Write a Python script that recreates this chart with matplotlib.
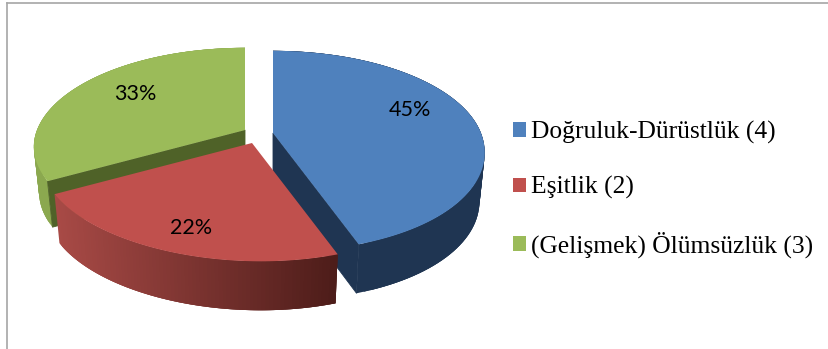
import numpy as np
import matplotlib
matplotlib.use('Agg')
import matplotlib.pyplot as plt
from matplotlib.patches import Patch, Polygon
from matplotlib.colors import to_rgb

# pasta grafik verileri
categories = ['Doğruluk-Dürüstlük (4)', 'Eşitlik (2)', '(Gelişmek) Ölümsüzlük (3)']
shares = [45, 22, 33]
pct_labels = ['45%', '22%', '33%']

top_colors = ['#4F81BD', '#C0504D', '#9BBB59']
rim_left = ['#1F3552', '#A84A46', '#8BA84F']
rim_right = ['#1F3552', '#4C1C19', '#8BA84F']
face_color = ['#1F3552', None, '#4F6228']
face_end = [-1, None, 0]  # gorunen ic yuz: dilimin hangi ucunda

# ayrilmis dilimlerin merkezleri (piksel)
apexes = [(273, 133), (252, 143), (245, 130)]
label_pos = [(410, 110), (191, 228), (135, 94)]
depths = [49, 49, 46]
R, RY, K, WARP, BOTTOM = 208, 97, 0.18, 9, 0.975


def project(theta, apex):
    # daireyi perspektifle ekrana izdusur
    u, v = np.cos(theta), np.sin(theta)
    s = 1 / (1 + K * v)
    return np.column_stack([apex[0] + R * u * s + WARP * np.minimum(v, 0) ** 2,
                            apex[1] - RY * v * s])


def lower(p, apex, d):
    # alt yuzey biraz daha dar gorunur
    return np.array([apex[0] + (p[0] - apex[0]) * BOTTOM, p[1] + d])


fig = plt.figure(figsize=(8.29, 3.49), dpi=100)
ax = fig.add_axes([7 / 829, 0, 822 / 829, 346 / 349])
ax.set_xlim(7, 829)
ax.set_ylim(349, 3)
ax.set_xticks([])
ax.set_yticks([])
for side in ['right', 'bottom']:
    ax.spines[side].set_visible(False)
for side in ['left', 'top']:
    ax.spines[side].set_color('#A6A6A6')
    ax.spines[side].set_linewidth(1.2)

# dilim acilari: saat yonunde, tepeden baslar
edges = np.pi / 2 - np.cumsum([0] + shares) / sum(shares) * 2 * np.pi

# cizim sirasi: yesil, mavi, kirmizi
for i in [2, 0, 1]:
    apex = apexes[i]
    d = depths[i]
    arc = project(np.linspace(edges[i], edges[i + 1], 90), apex)

    # dis kenar, renk gecisli; seritler soldan saga bindirilir
    c0, c1 = np.array(to_rgb(rim_left[i])), np.array(to_rgb(rim_right[i]))
    x0, x1 = arc[:, 0].min(), arc[:, 0].max()
    order = arc[::-1] if i == 0 else arc
    if i == 1:
        order = arc[::-1]
    for k in range(len(order) - 1):
        a, b = order[k], order[min(k + 3, len(order) - 1)]
        t = (order[k, 0] - x0) / (x1 - x0)
        col = c0 + (c1 - c0) * t
        ax.add_patch(Polygon([a, b, lower(b, apex, d), lower(a, apex, d)],
                             facecolor=col, edgecolor='none'))

    # ic yuz
    if face_color[i] is not None:
        p = arc[face_end[i]]
        ax.add_patch(Polygon([apex, p, lower(p, apex, d), np.add(apex, [0, d])],
                             facecolor=face_color[i], edgecolor=face_color[i], lw=0.6))

    # ust yuz
    ax.add_patch(Polygon(np.vstack([apex, arc]), facecolor=top_colors[i], edgecolor='none'))

for pos, txt in zip(label_pos, pct_labels):
    ax.text(pos[0], pos[1], txt, ha='center', va='center', fontsize=15.5, family='Lato', color='black')

handles = [Patch(facecolor=c, edgecolor='none') for c in top_colors]
ax.legend(handles, categories, loc='upper left', bbox_to_anchor=(513, 121),
          bbox_transform=ax.transData, frameon=False, borderpad=0, borderaxespad=0,
          handlelength=0.51, handleheight=0.51, handletextpad=0.2, labelspacing=1.26,
          prop={'family': 'Liberation Serif', 'size': 18.4})

fig.savefig('out.png', dpi=100)
